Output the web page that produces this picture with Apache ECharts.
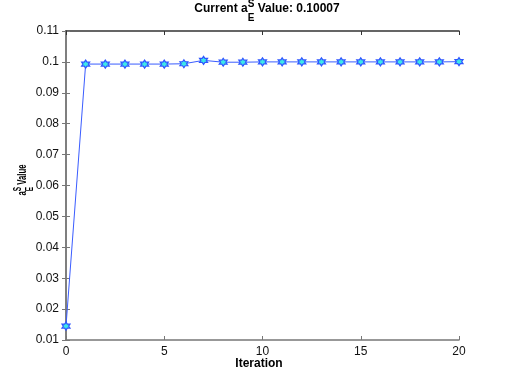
<!DOCTYPE html>
<html>
<head>
    <meta charset="utf-8">
    <script type="text/javascript" src="https://cdn.jsdelivr.net/npm/echarts@6/dist/echarts.min.js"></script>
    <title></title>
    <style>
        html, body { margin: 0; padding: 0; background: #fff; }
        #main { width: 507px; height: 382px; }
    </style>
</head>
<body>
<div id="main"></div>
<script type="text/javascript">
    // iteration number and the value read at each one
    var iterations = [0, 1, 2, 3, 4, 5, 6, 7, 8, 9, 10, 11, 12, 13, 14, 15, 16, 17, 18, 19, 20];
    var values = [0.0145, 0.0993, 0.0993, 0.0993, 0.0993, 0.0993, 0.0994, 0.1005, 0.0999, 0.0999, 0.1000,
        0.1000, 0.1000, 0.1000, 0.1000, 0.1000, 0.1000, 0.1000, 0.1000, 0.1000, 0.10007];
    var titleText = ['Current a', 'S', 'E', ' Value: 0.10007'];
    var yLabelText = ['a', 'S', 'E', ' Value'];
    var xLabelText = 'Iteration';

    var FONT = 'Liberation Sans, Arial, Helvetica, sans-serif';
    var hexagram = 'path://M0,-10 L2.89,-5 L8.66,-5 L5.77,0 L8.66,5 L2.89,5 L0,10 L-2.89,5 L-8.66,5 L-5.77,0 L-8.66,-5 L-2.89,-5 Z';

    var ctx = document.createElement('canvas').getContext('2d');
    function textW(s, size) {
        ctx.font = 'bold ' + size + 'px ' + FONT;
        return ctx.measureText(s).width;
    }

    // text with a stacked super/subscript, laid out from its center
    function scriptLabel(parts, size, smallSize, supY, subY) {
        var w0 = textW(parts[0], size);
        var w1 = Math.max(textW(parts[1], smallSize), textW(parts[2], smallSize));
        var w3 = textW(parts[3], size);
        var total = w0 + w1 + w3;
        var x = -total / 2;
        var st = function (s, fs, px, py) {
            return {
                type: 'text', x: px, y: py,
                style: {text: s, font: 'bold ' + fs + 'px ' + FONT, fill: '#000',
                    textAlign: 'left', textVerticalAlign: 'middle'}
            };
        };
        return [
            st(parts[0], size, x, 0),
            st(parts[1], smallSize, x + w0, supY),
            st(parts[2], smallSize, x + w0, subY),
            st(parts[3], size, x + w0 + w1, 0)
        ];
    }

    var axisGray = '#777';
    var chart = echarts.init(document.getElementById('main'));
    var option = {
        animation: false,
        backgroundColor: '#fff',
        grid: {left: 66, right: 48, top: 31, bottom: 42},
        xAxis: [{
            type: 'value', min: 0, max: 20, interval: 5,
            axisLine: {lineStyle: {color: axisGray, width: 1.5}},
            axisTick: {inside: true, length: 4, lineStyle: {color: axisGray}},
            axisLabel: {color: '#111', fontSize: 12, fontFamily: FONT, margin: 6},
            splitLine: {show: false}
        }, {
            type: 'value', min: 0, max: 20, interval: 5, position: 'top',
            axisLine: {lineStyle: {color: '#333', width: 1.5}},
            axisTick: {inside: true, length: 4, lineStyle: {color: '#333'}},
            axisLabel: {show: false},
            splitLine: {show: false}
        }],
        yAxis: [{
            type: 'value', min: 0.01, max: 0.11, interval: 0.01,
            axisLine: {lineStyle: {color: axisGray, width: 1.5}},
            axisTick: {inside: true, length: 4, lineStyle: {color: axisGray}},
            axisLabel: {
                color: '#111', fontSize: 12, fontFamily: FONT, margin: 7,
                formatter: function (v) { return String(+v.toFixed(2)); }
            },
            splitLine: {show: false}
        }, {
            type: 'value', min: 0.01, max: 0.11, interval: 0.01, position: 'right',
            axisLine: {lineStyle: {color: axisGray, width: 1.5}},
            axisTick: {inside: true, length: 4, lineStyle: {color: axisGray}},
            axisLabel: {show: false},
            splitLine: {show: false}
        }],
        series: [{
            type: 'line',
            data: iterations.map(function (it, i) { return [it, values[i]]; }),
            symbol: hexagram,
            symbolSize: 8,
            showAllSymbol: true,
            lineStyle: {color: '#3a5cff', width: 1},
            itemStyle: {color: '#3ee8e8', borderColor: '#2f55ff', borderWidth: 1.2}
        }],
        graphic: [{
            type: 'group', x: 267, y: 9,
            children: scriptLabel(titleText, 12, 10, -4.5, 9)
        }, {
            // the rotated label is drawn narrower along its length, as in the picture
            type: 'group', x: 22.5, y: 180, rotation: Math.PI / 2, scaleX: 0.65,
            children: scriptLabel(yLabelText, 12, 10, -4.5, 8)
        }, {
            type: 'text', x: 259, y: 364,
            style: {text: xLabelText, font: 'bold 12px ' + FONT, fill: '#000',
                textAlign: 'center', textVerticalAlign: 'middle'}
        }]
    };
    chart.setOption(option);
</script>
</body>
</html>
